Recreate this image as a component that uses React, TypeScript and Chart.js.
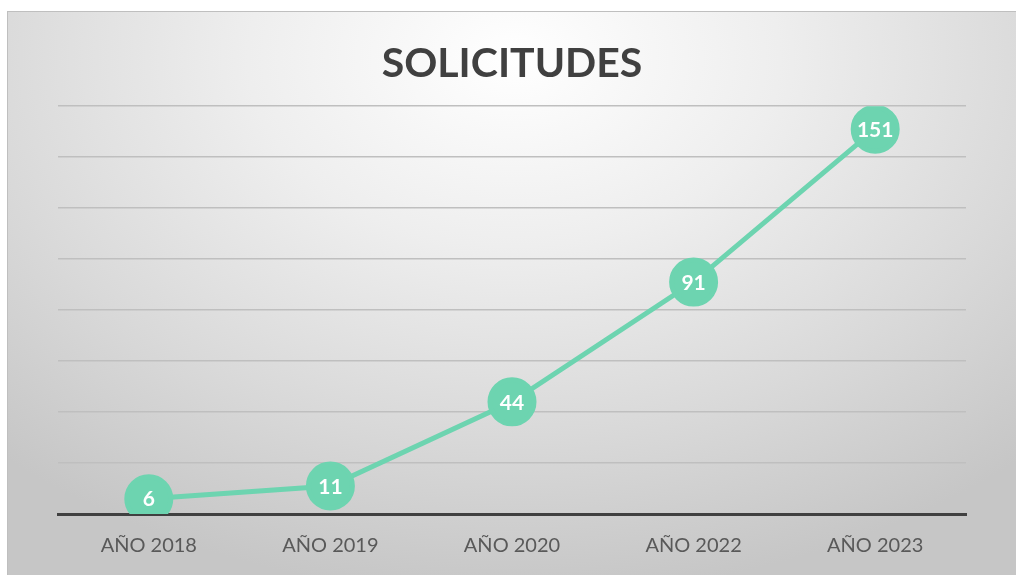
import React, { useEffect, useRef } from "react";
import { Chart, registerables } from "chart.js";

Chart.register(...registerables);

const categories = ["AÑO 2018", "AÑO 2019", "AÑO 2020", "AÑO 2022", "AÑO 2023"];
const solicitudes = [6, 11, 44, 91, 151];
const chartTitle = "SOLICITUDES";

const GREEN = "#6dd4b0";

const valueLabels = {
  id: "valueLabels",
  afterDatasetsDraw(chart: any) {
    const ctx = chart.ctx;
    const meta = chart.getDatasetMeta(0);
    ctx.save();
    ctx.fillStyle = "#ffffff";
    ctx.font = "bold 21px Lato, 'Open Sans', sans-serif";
    ctx.textAlign = "center";
    ctx.textBaseline = "middle";
    meta.data.forEach((pt: any, i: number) => {
      ctx.fillText(String(solicitudes[i]), pt.x, pt.y + 1);
    });
    ctx.restore();
  },
};

export default function App() {
  const ref = useRef<HTMLCanvasElement | null>(null);
  useEffect(() => {
    if (!ref.current) return;
    const chart = new Chart(ref.current, {
      type: "line",
      data: {
        labels: categories,
        datasets: [
          {
            data: solicitudes,
            borderColor: GREEN,
            backgroundColor: GREEN,
            borderWidth: 5,
            pointRadius: 22,
            pointHoverRadius: 22,
            pointBackgroundColor: GREEN,
            pointBorderColor: GREEN,
            tension: 0,
          },
        ],
      },
      options: {
        animation: false,
        responsive: false,
        maintainAspectRatio: false,
        layout: { padding: { left: 50, right: 50, top: 0, bottom: 0 } },
        plugins: {
          legend: { display: false },
          tooltip: { enabled: false },
          title: {
            display: true,
            text: chartTitle,
            color: "#404040",
            font: { family: "Lato, 'Open Sans', sans-serif", size: 41, weight: "bold" },
            padding: { top: 27, bottom: 18 },
          },
        },
        scales: {
          x: {
            offset: true,
            grid: { display: false, drawTicks: false },
            border: { display: true, color: "#404040", width: 3 },
            ticks: {
              color: "#595959",
              padding: 20,
              font: { family: "Lato, 'Open Sans', sans-serif", size: 20 },
            },
          },
          y: {
            min: 0,
            max: 160,
            ticks: { display: false, stepSize: 20 },
            grid: { color: "#bfbfbf", lineWidth: 1.5, drawTicks: false },
            border: { display: false },
          },
        },
      },
      plugins: [valueLabels],
    });
    return () => chart.destroy();
  }, []);

  return (
    <div
      style={{
        position: "fixed",
        left: 0,
        top: 0,
        width: 1016,
        height: 575,
        background: "#ffffff",
        overflow: "hidden",
      }}
    >
      <div
        style={{
          position: "absolute",
          left: 7,
          top: 11,
          width: 1014,
          height: 570,
          boxSizing: "border-box",
          border: "1px solid #bfbfbf",
          background:
            "radial-gradient(ellipse 75% 95% at 50% 8%, #ffffff 0%, #eeeeee 35%, #d9d9d9 70%, #c6c6c6 100%)",
        }}
      >
        <canvas ref={ref} width={1008} height={566} style={{ display: "block" }} />
      </div>
    </div>
  );
}
